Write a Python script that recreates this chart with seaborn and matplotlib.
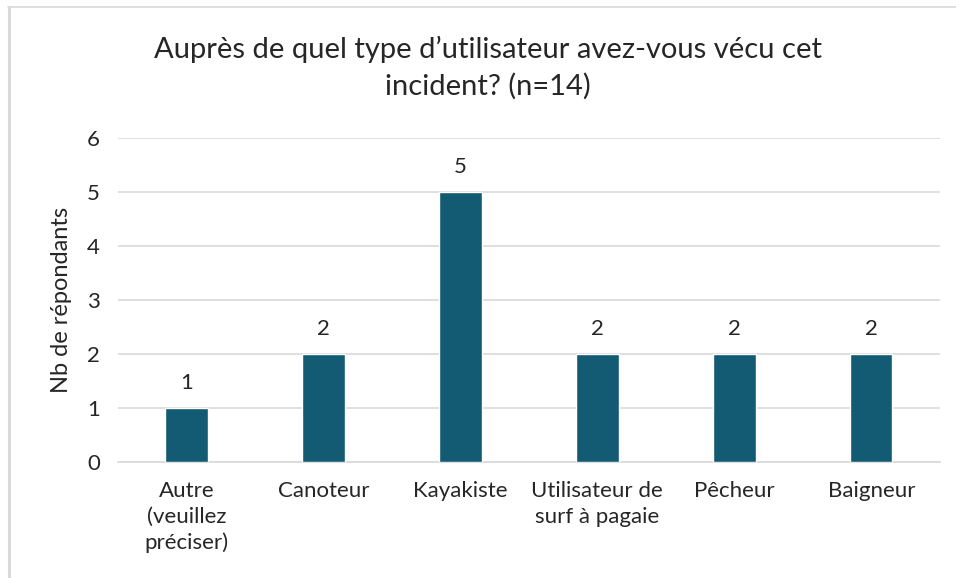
import matplotlib
matplotlib.use("Agg")
import matplotlib.pyplot as plt
from matplotlib.lines import Line2D
import seaborn as sns
import pandas as pd

categories = ["Autre\n(veuillez\npréciser)", "Canoteur", "Kayakiste",
              "Utilisateur de\nsurf à pagaie", "Pêcheur", "Baigneur"]
counts = [1, 2, 5, 2, 2, 2]
y_ticks = [0, 1, 2, 3, 4, 5, 6]
title = "Auprès de quel type d’utilisateur avez-vous vécu cet\nincident? (n=14)"
y_label = "Nb de répondants"

sns.set_theme(style="white")
plt.rcParams["font.family"] = ["Lato", "DejaVu Sans"]

df = pd.DataFrame({"cat": categories, "n": counts})

fig = plt.figure(figsize=(9.56, 5.78), dpi=100)
ax = fig.add_axes([0.1234, 0.2007, 0.8596, 0.5606])

sns.barplot(data=df, x="cat", y="n", color="#135A73", width=0.31,
            saturation=1, ax=ax, zorder=3)

ax.set_ylim(0, 6)
ax.set_yticks(y_ticks)
ax.set_yticklabels([str(v) for v in y_ticks], fontsize=16, color="#262626")
ax.grid(axis="y", color="#d9d9d9", linewidth=1.2, zorder=0)
ax.grid(axis="x", visible=False)
for side in ["top", "right", "left"]:
    ax.spines[side].set_visible(False)
ax.spines["bottom"].set_color("#d9d9d9")
ax.spines["bottom"].set_linewidth(1.2)
ax.tick_params(axis="y", length=0, pad=13)
ax.tick_params(axis="x", length=0, pad=14, labelsize=16, labelcolor="#262626")
for lbl in ax.get_xticklabels():
    lbl.set_linespacing(1.35)
ax.set_xlabel("")
ax.set_ylabel(y_label, fontsize=17, color="#262626", labelpad=11)

for i, v in enumerate(counts):
    ax.annotate(str(v), (i, v), xytext=(0, 11), textcoords="offset points",
                ha="center", va="bottom", fontsize=16, color="#262626")

fig.text(0.5105, 0.882, title, ha="center", va="center", fontsize=21,
         color="#262626", linespacing=1.45)

# outer chart frame
fig.add_artist(Line2D([8 / 956, 1], [1 - 7 / 578, 1 - 7 / 578],
                      transform=fig.transFigure, color="#d9d9d9", linewidth=1.2))
fig.add_artist(Line2D([9 / 956, 9 / 956], [0, 1 - 7 / 578],
                      transform=fig.transFigure, color="#d9d9d9", linewidth=2.2))

fig.savefig("out.png", dpi=100, facecolor="white")
